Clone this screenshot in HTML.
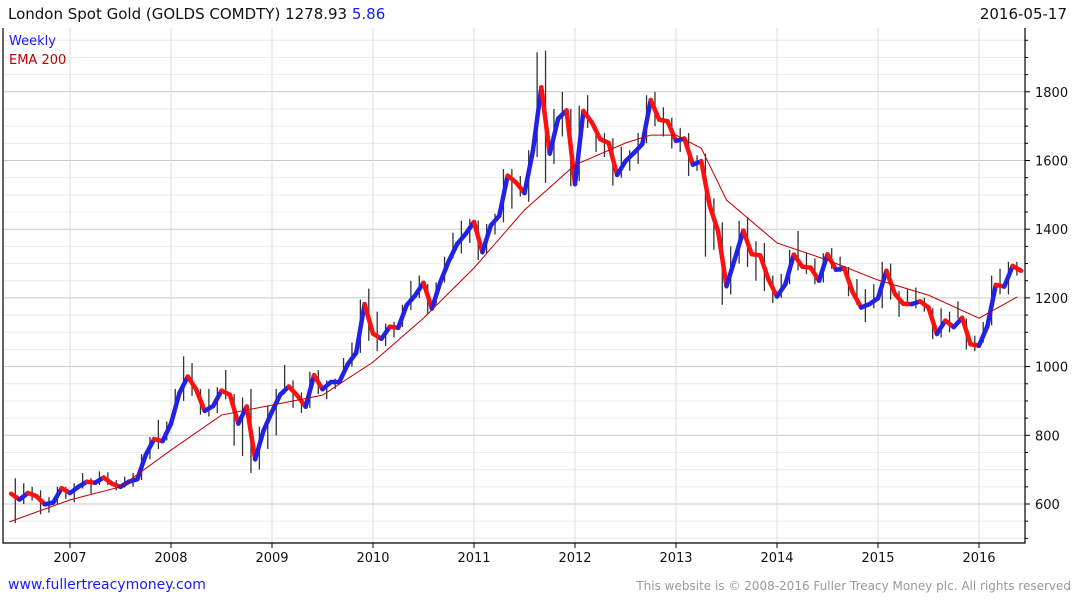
<!DOCTYPE html>
<html><head><meta charset="utf-8">
<style>
body{margin:0;background:#fff;font-family:"DejaVu Sans","Liberation Sans",sans-serif;}
#wrap{position:relative;width:1075px;height:600px;overflow:hidden;}
.t{position:absolute;white-space:nowrap;}
</style></head>
<body>
<div id="wrap">
<div class="t" style="left:8px;top:5px;font-size:15px;color:#111">London Spot Gold (GOLDS COMDTY) 1278.93 <span style="color:#1a1aff">5.86</span></div>
<div class="t" style="right:8px;top:5px;font-size:15px;color:#111">2016-05-17</div>
<div class="t" style="left:8px;top:577px;font-size:14px;color:#1a1aff">www.fullertreacymoney.com</div>
<div class="t" style="right:4px;top:579px;font-size:12px;color:#999">This website is © 2008-2016 Fuller Treacy Money plc. All rights reserved</div>
<svg id="chart" width="1075" height="600" style="position:absolute;left:0;top:0"></svg>
</div>
<script>
const closes=[613,632,623,599,604,646,632,
650,665,662,677,659,650,665,672,743,789,783,834,
923,971,933,871,885,930,918,834,884,730,814,869,
919,942,916,883,975,934,955,955,1007,1040,1182,1096,
1081,1116,1113,1179,1207,1244,1169,1246,1307,1357,1386,1421,
1333,1411,1439,1556,1536,1505,1628,1813,1620,1722,1746,1531,
1744,1711,1662,1651,1558,1598,1622,1648,1776,1719,1714,1657,
1664,1588,1598,1469,1394,1234,1314,1396,1327,1324,1253,1204,
1240,1326,1291,1288,1250,1327,1282,1286,1216,1172,1182,1199,
1279,1212,1183,1182,1190,1172,1095,1134,1115,1142,1065,1061,
1118,1238,1233,1293,1279];
const highs=[675,660,650,640,620,650,650,
660,690,675,695,692,670,680,690,745,795,845,840,
935,1030,1010,935,935,940,990,920,910,935,825,885,
935,1005,960,925,985,990,960,965,1025,1070,1195,1227,
1160,1125,1130,1180,1250,1265,1240,1245,1320,1390,1425,1430,
1425,1415,1445,1575,1575,1555,1630,1915,1920,1750,1800,1750,
1760,1790,1700,1680,1665,1640,1630,1680,1790,1800,1755,1725,
1695,1680,1615,1620,1490,1420,1350,1425,1435,1365,1360,1265,
1270,1340,1395,1330,1315,1330,1345,1320,1290,1255,1225,1240,
1305,1300,1220,1225,1230,1200,1170,1170,1160,1190,1140,1090,
1130,1265,1285,1305,1305];
const lows=[545,600,610,570,575,600,615,
605,645,630,655,655,640,648,650,670,730,760,785,
860,900,915,860,855,865,905,770,740,690,700,760,
800,920,880,865,880,920,905,935,990,1000,1040,1075,
1045,1060,1085,1115,1165,1200,1155,1180,1245,1315,1330,1360,
1310,1330,1385,1420,1460,1495,1480,1610,1535,1590,1670,1525,
1540,1695,1625,1610,1527,1550,1570,1590,1650,1700,1670,1635,
1625,1555,1570,1320,1340,1180,1210,1300,1290,1250,1220,1185,
1200,1240,1280,1270,1240,1245,1285,1275,1205,1180,1130,1170,
1170,1195,1145,1175,1170,1160,1080,1085,1100,1140,1050,1045,
1070,1120,1210,1210,1265];
const emaTimes=[2006.4,2007.0,2007.5,2008.0,2008.5,2009.0,2009.5,2010.0,2010.5,2011.0,2011.5,2012.0,2012.5,2012.75,2013.0,2013.25,2013.5,2014.0,2014.5,2015.0,2015.5,2016.0,2016.38];
const emaValues=[548,612,650,757,859,888,917,1013,1141,1287,1456,1587,1651,1674,1674,1636,1485,1360,1310,1252,1208,1141,1203];
const yTicks=[600,800,1000,1200,1400,1600,1800];
const years=[2007,2008,2009,2010,2011,2012,2013,2014,2015,2016];
const startYear=2006,startMonth=5;
const NS="http://www.w3.org/2000/svg";
const svg=document.getElementById('chart');
const L=3,R=1025,T=28,B=543;
function xs(t){return 70+(t-2007)*101.0;}
function ys(p){return 504-(p-600)*0.3435;}
function mk(tag,a){const e=document.createElementNS(NS,tag);for(const k in a)e.setAttribute(k,a[k]);svg.appendChild(e);return e;}
for(let p=500;p<=1950;p+=50){const y=ys(p);if(y<T||y>B)continue;
 const g=mk('line',{x1:L,x2:R,y1:y,y2:y,stroke:p%200===0?'#c8c8c8':'#ececec','stroke-width':1});
 
 
 const tk=mk('line',{x1:R,x2:R+(p%200===0?5:3),y1:y,y2:y,stroke:'#000'});
 
 
}
yTicks.forEach(v=>{const tx=mk('text',{x:R+10,y:ys(v)+5,'font-size':13,fill:'#111','font-family':'DejaVu Sans, Liberation Sans, sans-serif'});tx.textContent=v;
 
 });
years.forEach(yr=>{const x=xs(yr);
 const g=mk('line',{x1:x,x2:x,y1:T,y2:B,stroke:'#dcdcdc'});
 
 
 const tk=mk('line',{x1:x,x2:x,y1:B,y2:B+5,stroke:'#000'});
 
 
 const tx=mk('text',{x:x,y:B+19,'font-size':13,fill:'#111','text-anchor':'middle','font-family':'DejaVu Sans, Liberation Sans, sans-serif'});tx.textContent=yr;
 
 });
const fr=mk('path',{d:`M${L},${T}V${B}H${R}V${T}`,fill:'none',stroke:'#000','stroke-width':1.2});


closes.forEach((c,i)=>{const t=startYear+(startMonth+i+0.5)/12;const x=xs(t);
 const ln=mk('line',{x1:x,x2:x,y1:ys(highs[i]),y2:ys(lows[i]),stroke:'#333','stroke-width':1.3});
 
 });
let prev=630;
closes.forEach((c,i)=>{const t0=startYear+(startMonth+i)/12,t1=startYear+(startMonth+i+1)/12;
 const s=mk('line',{x1:xs(t0),x2:xs(t1),y1:ys(prev),y2:ys(c),stroke:c>=prev?'#2222e6':'#ff1010','stroke-width':4.5,'stroke-linecap':'round'});
 
 
 prev=c;});
const ema=mk('polyline',{points:emaTimes.map((t,i)=>xs(t)+','+ys(emaValues[i])).join(' '),fill:'none',stroke:'#c00000','stroke-width':1});


const l1=mk('text',{x:9,y:45,'font-size':13,fill:'#1a1aff','font-family':'DejaVu Sans, Liberation Sans, sans-serif'});l1.textContent='Weekly';


const l2=mk('text',{x:9,y:64,'font-size':13,fill:'#c00000','font-family':'DejaVu Sans, Liberation Sans, sans-serif'});l2.textContent='EMA 200';


</script>
</body></html>
